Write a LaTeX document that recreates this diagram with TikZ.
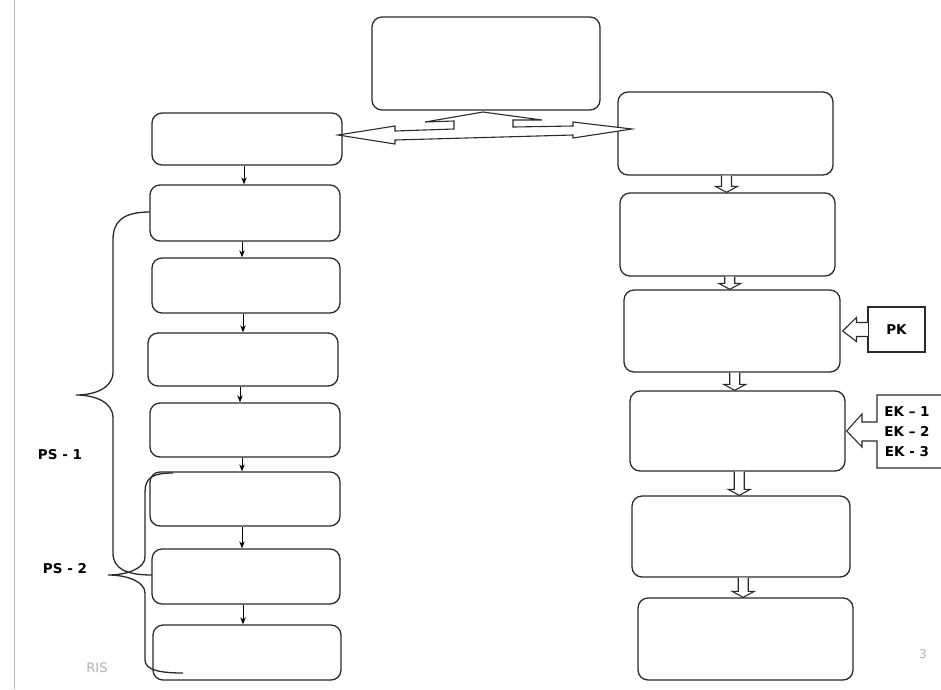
\documentclass[tikz,border=0pt]{standalone}
\usepackage{fontspec}
\newfontfamily\lab{DejaVu Sans}
\usetikzlibrary{calc,arrows.meta}
\definecolor{linec}{HTML}{2A2A2A}
\tikzset{
  box/.style={draw=linec, line width=1.3pt, rounded corners=10pt, minimum width=#1, inner sep=0pt},
  boxh/.style={minimum height=#1},
  outl/.style={draw=linec, line width=1.1pt, line join=miter},
  smallarrow/.style={draw=black, line width=1pt, -{Stealth[length=7pt,width=5.5pt]}},
  bracestyle/.style={draw=linec, line width=1.3pt},
  labtext/.style={font=\lab\bfseries\fontsize{13.5}{20}\selectfont, text=black, inner sep=0pt}
}
\newcommand\blkdown[2]{%
  \path let \p1=(#1.south), \p2=(#2.north), \p3=($(#1.south)!0.5!(#2.north)$) in
   [outl, fill=white] (\x3-5pt,\y1) -- (\x3-5pt,\y2+6pt) -- (\x3-11pt,\y2+6pt) -- (\x3,\y2) -- (\x3+11pt,\y2+6pt) -- (\x3+5pt,\y2+6pt) -- (\x3+5pt,\y1);}
\begin{document}
\begin{tikzpicture}[x=1pt,y=-1pt]
\useasboundingbox (0,0) rectangle (941,689);
\fill[white] (0,0) rectangle (941,689);
\draw[gray!55, line width=0.6pt] (14,0) -- (14,689);

% top box
\node[box=228pt, boxh=93pt] (T) at (486,63.5) {};
% left column
\node[box=190pt, boxh=52pt] (L1) at (247,139) {};
\node[box=190pt, boxh=56pt] (L2) at (245,213) {};
\node[box=188pt, boxh=55pt] (L3) at (246,285.5) {};
\node[box=190pt, boxh=53pt] (L4) at (243,359.5) {};
\node[box=190pt, boxh=54pt] (L5) at (245,430) {};
\node[box=190pt, boxh=54pt] (L6) at (245,499) {};
\node[box=188pt, boxh=55pt] (L7) at (246,576.5) {};
\node[box=188pt, boxh=55pt] (L8) at (247,652.5) {};
% right column
\node[box=215pt, boxh=83pt] (R1) at (725.5,133.5) {};
\node[box=215pt, boxh=83pt] (R2) at (727.5,234.5) {};
\node[box=216pt, boxh=82pt] (R3) at (732,331) {};
\node[box=215pt, boxh=80pt] (R4) at (737.5,431) {};
\node[box=218pt, boxh=81pt] (R5) at (741,536.5) {};
\node[box=215pt, boxh=82pt] (R6) at (745.5,639) {};

% left small arrows
\foreach \a/\b in {L1/L2,L2/L3,L3/L4,L4/L5,L5/L6,L6/L7,L7/L8}
  \draw[smallarrow] ([xshift=-3pt]\a.south) -- ([xshift=-3pt]\a.south |- \b.north);

% right block arrows
\blkdown{R1}{R2}
\blkdown{R2}{R3}
\blkdown{R3}{R4}
\blkdown{R4}{R5}
\blkdown{R5}{R6}

% double arrow with upward branch
\draw[outl, fill=white] (338,135) -- (395,126) -- (395,131) -- (454,129) -- (454,121)
  -- (425,122) -- (483,112) -- (542,120) -- (513,120) -- (513,127) -- (573,126)
  -- (573,122) -- (632,129) -- (573,138) -- (573,135) -- (395,140) -- (395,144) -- cycle;

% PK
\node[draw=linec, line width=1.1pt, minimum width=57pt, minimum height=45pt, labtext] (PK) at (896.5,329.5) {PK};
\fill[white] ($(PK.west)+(-1,-6.5)$) rectangle ($(PK.west)+(1,6.5)$);
\draw[outl] ($(PK.west)+(0,-7)$) -- ++(-11,0) -- ++(0,-5) -- ($(R3.east)+(2,0)$)
  -- ($(PK.west)+(-11,12)$) -- ++(0,-5) -- ($(PK.west)+(0,7)$);

% EK
\coordinate (EKtl) at (877,395);
\coordinate (EKbl) at (877,468);
\draw[outl] (950,395) -- (EKtl) -- (877,422) -- (862,422) -- (862,414) -- ($(R4.east)+(1,0)$)
  -- (862,447) -- (862,441) -- (877,441) -- (EKbl) -- (950,468);
\node[labtext, align=center] (EK) at (907,432) {EK – 1\\EK – 2\\EK - 3};

% braces
\draw[bracestyle] (150,212) .. controls (122,212) and (113,222) .. (113,240) -- (113,372)
  .. controls (113,388) and (95,395) .. (76,395)
  .. controls (95,395) and (113,402) .. (113,418) -- (113,553)
  .. controls (113,568) and (125,575) .. (152,575);
\draw[bracestyle] (173,473) .. controls (152,473) and (145,478) .. (145,492) -- (145,557)
  .. controls (145,568) and (128,575) .. (108,575)
  .. controls (128,575) and (145,582) .. (145,593) -- (145,660)
  .. controls (145,670) and (160,673) .. (183,673);

\node[labtext] (PS1) at (60,455) {PS - 1};
\node[labtext] (PS2) at (65,569) {PS - 2};
\node[font=\lab\fontsize{13}{15}\selectfont, text=gray!60, inner sep=0pt] (RIS) at (97,668) {RIS};
\node[font=\lab\fontsize{12}{14}\selectfont, text=gray!60, inner sep=0pt] (pg) at (923,654) {3};
\end{tikzpicture}
\end{document}
